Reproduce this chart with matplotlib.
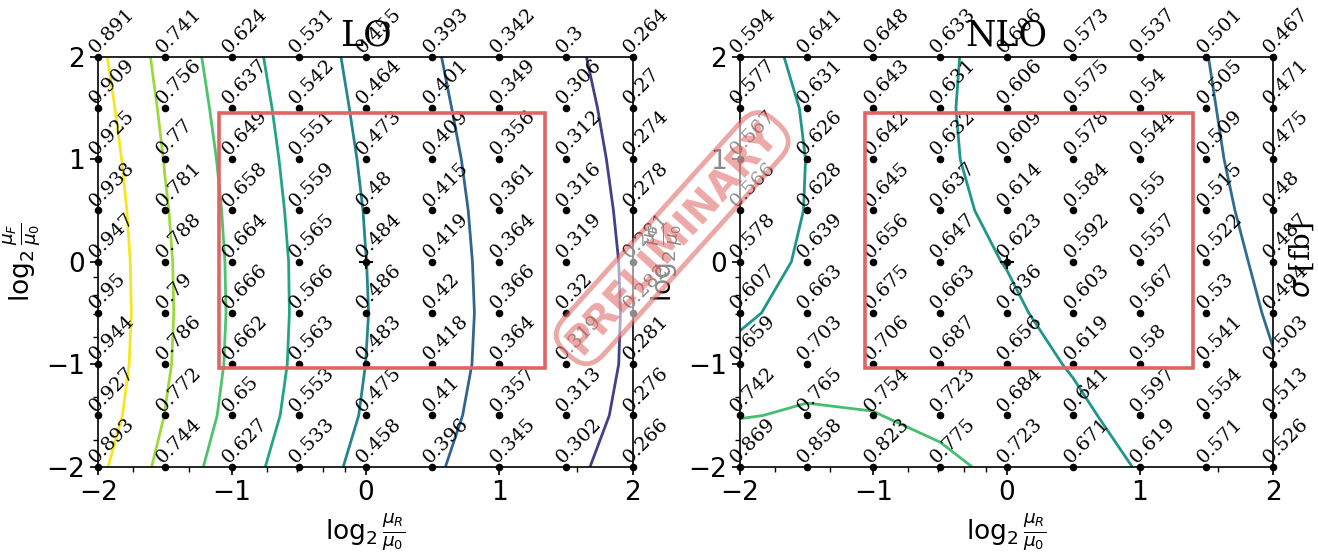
#!/usr/bin/env python3

"""
Scale-variation grid of the LO and NLO cross sections.
"""

import matplotlib
matplotlib.use("Agg")
import matplotlib.pyplot as plt
import matplotlib.colors as mcolors
import numpy as np
from matplotlib.patches import Rectangle

# ---------------------------------- DATA -------------------------------------
# log2(mu/mu0) grid points
log2_mu_r = [-2.0, -1.5, -1.0, -0.5, 0.0, 0.5, 1.0, 1.5, 2.0]
log2_mu_f = [2.0, 1.5, 1.0, 0.5, 0.0, -0.5, -1.0, -1.5, -2.0]

# one list per log2(mu_R) column, values from log2(mu_F) = 2 down to -2
lo_sigma = [
    [0.891, 0.909, 0.925, 0.938, 0.947, 0.95, 0.944, 0.927, 0.893],
    [0.741, 0.756, 0.77, 0.781, 0.788, 0.79, 0.786, 0.772, 0.744],
    [0.624, 0.637, 0.649, 0.658, 0.664, 0.666, 0.662, 0.65, 0.627],
    [0.531, 0.542, 0.551, 0.559, 0.565, 0.566, 0.563, 0.553, 0.533],
    [0.455, 0.464, 0.473, 0.48, 0.484, 0.486, 0.483, 0.475, 0.458],
    [0.393, 0.401, 0.409, 0.415, 0.419, 0.42, 0.418, 0.41, 0.396],
    [0.342, 0.349, 0.356, 0.361, 0.364, 0.366, 0.364, 0.357, 0.345],
    [0.3, 0.306, 0.312, 0.316, 0.319, 0.32, 0.319, 0.313, 0.302],
    [0.264, 0.27, 0.274, 0.278, 0.281, 0.282, 0.281, 0.276, 0.266],
]
nlo_sigma = [
    [0.594, 0.577, 0.567, 0.566, 0.578, 0.607, 0.659, 0.742, 0.869],
    [0.641, 0.631, 0.626, 0.628, 0.639, 0.663, 0.703, 0.765, 0.858],
    [0.648, 0.643, 0.642, 0.645, 0.656, 0.675, 0.706, 0.754, 0.823],
    [0.633, 0.631, 0.632, 0.637, 0.647, 0.663, 0.687, 0.723, 0.775],
    [0.606, 0.606, 0.609, 0.614, 0.623, 0.636, 0.656, 0.684, 0.723],
    [0.573, 0.575, 0.578, 0.584, 0.592, 0.603, 0.619, 0.641, 0.671],
    [0.537, 0.54, 0.544, 0.55, 0.557, 0.567, 0.58, 0.597, 0.619],
    [0.501, 0.505, 0.509, 0.515, 0.522, 0.53, 0.541, 0.554, 0.571],
    [0.467, 0.471, 0.475, 0.48, 0.487, 0.494, 0.503, 0.513, 0.526],
]

lo_levels = [0.289, 0.386, 0.483, 0.58, 0.677, 0.774, 0.871]
nlo_levels = [0.5, 0.625, 0.75]

# red boxes: (x0, y0, x1, y1) in log2 units
lo_box = [-1.10, -1.035, 1.345, 1.45]
nlo_box = [-1.06, -1.035, 1.40, 1.45]

panel_titles = ["LO", "NLO"]
major_ticks = [-2, -1, 0, 1, 2]
minor_ratios = [0.3, 0.4, 0.6, 0.7, 0.8, 0.9, 3.0]
# ---------------------------------- DATA -------------------------------------


def draw_panel(ax, sigma, levels, norm, box, title):
    """
    Draws the grid of points, their labels and the contour lines.
    """
    xs = np.array(log2_mu_r)
    ys = np.array(log2_mu_f)
    # rows: mu_F descending -> flip to ascending for contour
    z = np.array(sigma).T
    X, Y = np.meshgrid(xs, ys[::-1])
    ax.contour(X, Y, z[::-1], levels=levels, cmap="viridis", norm=norm,
               linewidths=2.0)

    gx, gy = np.meshgrid(xs, ys)
    ax.scatter(gx.ravel(), gy.ravel(), s=30, color="black", zorder=3,
               clip_on=False, linewidths=0)
    ax.plot(0, 0, "k+", ms=10, mew=1.5, zorder=4)

    for i, x in enumerate(xs):
        for j, y in enumerate(ys):
            ax.text(x, y, f"{sigma[i][j]:g}", rotation=45,
                    rotation_mode="anchor", ha="left", va="bottom",
                    family="DejaVu Serif", fontsize=14, clip_on=False,
                    zorder=5)

    x0, y0, x1, y1 = box
    ax.add_patch(Rectangle((x0, y0), x1 - x0, y1 - y0, fill=False,
                           edgecolor="#e06464", linewidth=2.6, zorder=6))

    ax.set_xlim(-2, 2)
    ax.set_ylim(-2, 2)
    ax.set_xticks(major_ticks)
    ax.set_yticks(major_ticks)
    ax.set_xticks(np.log2(minor_ratios), minor=True)
    ax.set_yticks(np.log2(minor_ratios), minor=True)
    ax.tick_params(which="major", length=6, width=1.2, labelsize=19)
    ax.tick_params(which="minor", length=3.5, width=1.0)
    for spine in ax.spines.values():
        spine.set_linewidth(1.2)
    ax.set_title(title, family="DejaVu Serif", fontsize=25, pad=8)
    ax.set_xlabel(r"$\log_2\frac{\mu_R}{\mu_0}$", fontsize=19, labelpad=4)
    ax.set_ylabel(r"$\log_2\frac{\mu_F}{\mu_0}$", fontsize=19, labelpad=2)


def main():
    fig = plt.figure(figsize=(13.18, 5.54), dpi=100)
    ax_lo = fig.add_axes([0.0746, 0.1576, 0.4055, 0.740])
    ax_nlo = fig.add_axes([0.5615, 0.1576, 0.4044, 0.740])

    draw_panel(ax_lo, lo_sigma, lo_levels,
               mcolors.Normalize(vmin=0.15, vmax=0.88), lo_box,
               panel_titles[0])
    draw_panel(ax_nlo, nlo_sigma, nlo_levels,
               mcolors.Normalize(vmin=0.25, vmax=0.964), nlo_box,
               panel_titles[1])

    fig.text(0.988, 0.53, r"$\sigma$ [fb]", rotation=90, ha="center",
             va="center", family="DejaVu Serif", fontsize=20)

    # the stamp goes on top of everything
    fig.text(0.51, 0.57, "PRELIMINARY", rotation=48, ha="center",
             va="center", fontsize=28, fontweight="bold", color="#d9534f",
             alpha=0.5, zorder=20,
             bbox=dict(boxstyle="round,pad=0.2,rounding_size=0.6",
                       facecolor=(1, 1, 1, 0.55),
                       edgecolor=(0.85, 0.33, 0.31, 0.5), linewidth=3.5))

    fig.savefig("out.png", dpi=100)


if __name__ == "__main__":
    main()
